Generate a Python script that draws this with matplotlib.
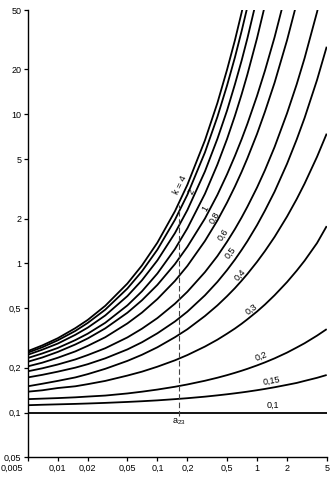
import matplotlib
matplotlib.use('Agg')
import matplotlib.pyplot as plt
import matplotlib.transforms as mtransforms
from matplotlib.ticker import NullLocator

plt.rcParams['font.family'] = ['Liberation Sans', 'DejaVu Sans']

# common x grid for all curves
x_vals = [0.005, 0.007, 0.01, 0.015, 0.02, 0.03, 0.05, 0.07, 0.1, 0.15, 0.2, 0.3, 0.4,
          0.5, 0.6, 0.7, 0.8, 1, 1.2, 1.5, 2, 2.5, 3, 4, 5]

# curve values (steep curves stop once they leave the top)
y_k4 = [0.258, 0.282, 0.315, 0.368, 0.418, 0.520, 0.733, 0.969, 1.378, 2.239, 3.37, 6.69,
        11.9, 19.9, 31.4, 48.1, 71.2]
y_k3 = [0.252, 0.274, 0.305, 0.3525, 0.399, 0.490, 0.679, 0.885, 1.237, 1.961, 2.89, 5.55,
        9.61, 15.6, 24.1, 36.1, 52.5]
y_k2 = [0.244, 0.264, 0.290, 0.332, 0.371, 0.448, 0.604, 0.771, 1.048, 1.597, 2.28, 4.14,
        6.84, 10.6, 15.9, 22.9, 32.3, 60.5]
y_k15 = [0.232, 0.249, 0.271, 0.306, 0.338, 0.400, 0.523, 0.650, 0.856, 1.248, 1.72, 2.93,
         4.60, 6.83, 9.78, 13.6, 18.5, 32.4, 53.8]
y_k1 = [0.219, 0.234, 0.255, 0.286, 0.314, 0.367, 0.467, 0.566, 0.718, 0.990, 1.294, 2.00,
        2.88, 3.96, 5.26, 6.80, 8.63, 13.3, 19.6, 32.9, 69.5]
y_k08 = [0.204, 0.216, 0.233, 0.257, 0.280, 0.320, 0.396, 0.468, 0.577, 0.763, 0.963, 1.414,
         1.94, 2.56, 3.28, 4.11, 5.07, 7.39, 10.4, 16.3, 31.4, 55.7]
y_k06 = [0.189, 0.198, 0.210, 0.227, 0.243, 0.270, 0.319, 0.365, 0.430, 0.537, 0.646, 0.874,
         1.12, 1.398, 1.70, 2.033, 2.40, 3.23, 4.22, 6.04, 10.16, 15.9, 23.8, 48.5, 90]
y_k05 = [0.172, 0.179, 0.188, 0.200, 0.211, 0.231, 0.265, 0.296, 0.340, 0.408, 0.475, 0.611,
         0.752, 0.902, 1.061, 1.231, 1.41, 1.807, 2.26, 3.03, 4.66, 6.78, 9.46, 17.0, 28.4]
y_k04 = [0.150, 0.156, 0.163, 0.172, 0.181, 0.1965, 0.222, 0.244, 0.274, 0.320, 0.362, 0.444,
         0.523, 0.603, 0.683, 0.766, 0.850, 1.025, 1.21, 1.506, 2.063, 2.70, 3.43, 5.19, 7.42]
y_k03 = [0.138, 0.141, 0.146, 0.150, 0.155, 0.163, 0.177, 0.188, 0.203, 0.224, 0.243, 0.277,
         0.308, 0.338, 0.366, 0.394, 0.422, 0.476, 0.530, 0.612, 0.750, 0.894, 1.043, 1.37, 1.78]
y_k02 = [0.123, 0.124, 0.125, 0.1265, 0.128, 0.130, 0.1343, 0.138, 0.1426, 0.1489, 0.1543,
         0.1634, 0.1712, 0.1782, 0.1847, 0.1907, 0.1964, 0.2071, 0.217, 0.2309, 0.2524, 0.273,
         0.2916, 0.328, 0.3626]
y_k015 = [0.112, 0.1128, 0.1135, 0.1143, 0.115, 0.1161, 0.1178, 0.1191, 0.1207, 0.123, 0.1248,
          0.1278, 0.1304, 0.1326, 0.1346, 0.1364, 0.1381, 0.1412, 0.144, 0.1478, 0.1534, 0.158,
          0.163, 0.171, 0.1786]
x_k01 = [0.005, 5]
y_k01 = [0.1, 0.1]

curves = [y_k4, y_k3, y_k2, y_k15, y_k1, y_k08, y_k06, y_k05, y_k04, y_k03, y_k02, y_k015]

# curve labels: text, x, y, rotation
label_text = ['k = 4', '2', '1', '0,8', '0,6', '0,5', '0,4', '0,3', '0,2', '0,15', '0,1']
label_x = [0.168, 0.221, 0.30, 0.378, 0.455, 0.535, 0.673, 0.883, 1.11, 1.40, 1.45]
label_y = [3.37, 3.03, 2.32, 2.02, 1.56, 1.18, 0.84, 0.49, 0.238, 0.162, 0.112]
label_rot = [64, 64, 60, 60, 56, 53, 48, 37, 21, 10, 0]

# marked point a23
a23_x = 0.165
a23_y = [0.0944, 2.45]
a23_label_y = 0.0874

# axis ticks
xticks = [0.005, 0.01, 0.02, 0.05, 0.1, 0.2, 0.5, 1, 2, 5]
xtick_labels = ['0,005', '0,01', '0,02', '0,05', '0,1', '0,2', '0,5', '1', '2', '5']
yticks = [0.05, 0.1, 0.2, 0.5, 1, 2, 5, 10, 20, 50]
ytick_labels = ['0,05', '0,1', '0,2', '0,5', '1', '2', '5', '10', '20', '50']

fig = plt.figure(figsize=(3.3, 4.8), dpi=100)
ax = fig.add_axes([0.084, 0.047, 0.906, 0.932])

for y in curves:
    ax.plot(x_vals[:len(y)], y, color='black', lw=1.3, solid_capstyle='butt')
ax.plot(x_k01, y_k01, color='black', lw=1.3)

ax.plot([a23_x, a23_x], a23_y, color='#444444', lw=0.8, linestyle=(0, (5, 2.5)))
ax.text(a23_x, a23_label_y, r'$\mathregular{a_{23}}$', ha='center', va='center', fontsize=6.5)

for t, lx, ly, r in zip(label_text, label_x, label_y, label_rot):
    ax.text(lx, ly, t, ha='center', va='center', rotation=r,
            rotation_mode='anchor', fontsize=6.5)

ax.set_xscale('log')
ax.set_yscale('log')
ax.set_xlim(0.005, 5)
ax.set_ylim(0.05, 50)
ax.set_xticks(xticks)
ax.set_xticklabels(xtick_labels)
ax.set_yticks(yticks)
ax.set_yticklabels(ytick_labels)
ax.xaxis.set_minor_locator(NullLocator())
ax.yaxis.set_minor_locator(NullLocator())
ax.tick_params(direction='out', length=3, width=0.9, pad=1.5, labelsize=6.5)

for side in ['top', 'right']:
    ax.spines[side].set_visible(False)
for side in ['left', 'bottom']:
    ax.spines[side].set_linewidth(1.0)

# first x label sits left of its tick in the original
first = ax.get_xticklabels()[0]
first.set_horizontalalignment('right')
first.set_transform(first.get_transform() +
                    mtransforms.ScaledTranslation(-5 / 100, 0, fig.dpi_scale_trans))

fig.savefig('out.png', dpi=100)
